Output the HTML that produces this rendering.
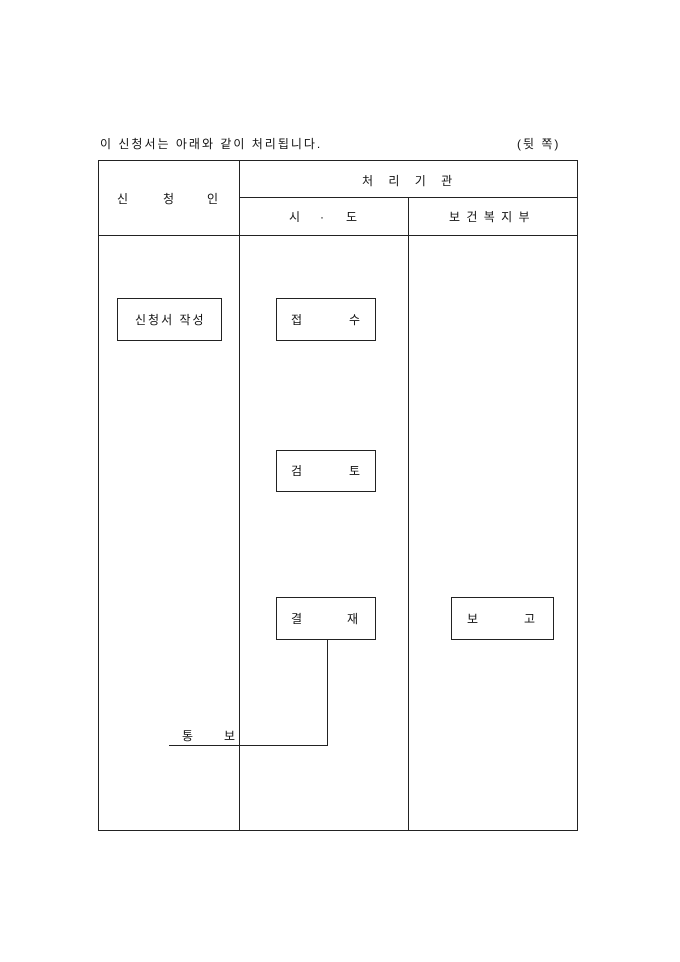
<!DOCTYPE html>
<html><head><meta charset="utf-8"><style>body{margin:0;background:#fff}svg{display:block}text{font-family:"Liberation Sans","Noto Sans CJK KR","NanumGothic",sans-serif;font-size:12px;fill:#111}</style></head><body>
<svg width="680" height="962" viewBox="0 0 680 962">
<g stroke="#222" stroke-width="1" fill="none">
<rect x="98.5" y="160.5" width="479" height="670"/>
<line x1="239.5" y1="160" x2="239.5" y2="830"/>
<line x1="408.5" y1="197" x2="408.5" y2="830"/>
<line x1="239" y1="197.5" x2="577" y2="197.5"/>
<line x1="98" y1="235.5" x2="577" y2="235.5"/>
<rect x="117.5" y="298.5" width="104" height="42"/>
<rect x="276.5" y="298.5" width="99" height="42"/>
<rect x="276.5" y="450.5" width="99" height="41"/>
<rect x="276.5" y="597.5" width="99" height="42"/>
<rect x="451.5" y="597.5" width="102" height="42"/>
<polyline points="327.5,639 327.5,745.5 169,745.5"/>
</g>
<text x="100" y="148" letter-spacing="2">이 신청서는 아래와 같이 처리됩니다.</text>
<text x="517" y="148" letter-spacing="2">(뒷 쪽)</text>
<text x="362" y="185" letter-spacing="6">처 리  기 관</text>
<text x="117" y="203">신</text><text x="163" y="203">청</text><text x="207" y="203">인</text>
<text x="289" y="221">시</text><text x="320" y="221">·</text><text x="346" y="221">도</text>
<text x="449" y="221" letter-spacing="1.5">보 건 복 지 부</text>
<text x="135" y="324" letter-spacing="2">신청서 작성</text>
<text x="291" y="324">접</text><text x="349" y="324">수</text>
<text x="291" y="475">검</text><text x="349" y="475">토</text>
<text x="291" y="623">결</text><text x="347" y="623">재</text>
<text x="467" y="623">보</text><text x="524" y="623">고</text>
<text x="182" y="740">통</text><text x="224" y="740">보</text>
</svg>
</body></html>
